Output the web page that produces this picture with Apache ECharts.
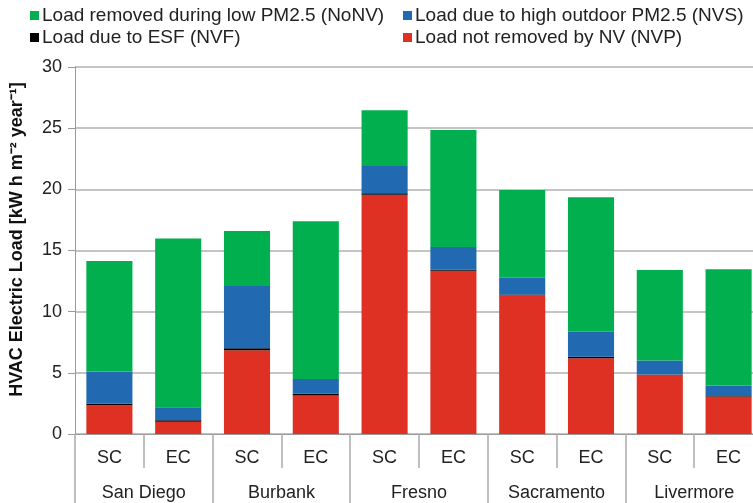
<!DOCTYPE html>
<html>
<head>
<meta charset="utf-8">
<script src="https://cdn.jsdelivr.net/npm/echarts@6/dist/echarts.min.js"></script>
<style>html,body{margin:0;padding:0;background:#fff;}#c{width:753px;height:503px;}</style>
</head>
<body>
<div id="c"></div>
<script>
const cases = ['SC','EC','SC','EC','SC','EC','SC','EC','SC','EC'];
const cities = ['San Diego','Burbank','Fresno','Sacramento','Livermore'];
const yTicks = [0,5,10,15,20,25,30];
const nameNoNV = 'Load removed during low PM2.5 (NoNV)';
const nameNVS = 'Load due to high outdoor PM2.5 (NVS)';
const nameNVF = 'Load due to ESF (NVF)';
const nameNVP = 'Load not removed by NV (NVP)';
const nvp  = [2.35, 1.0, 6.85, 3.15, 19.55, 13.35, 11.35, 6.2, 4.84, 3.07];
const nvf  = [0.12, 0.12, 0.15, 0.15, 0.12, 0.08, 0.05, 0.12, 0.03, 0.03];
const nvs  = [2.64, 1.06, 5.1, 1.2, 2.23, 1.86, 1.38, 2.03, 1.14, 0.87];
const nonv = [9.04, 13.8, 4.5, 12.9, 4.57, 9.55, 7.16, 11.0, 7.4, 9.5];

const FONT = "'Liberation Sans', Arial, sans-serif";
const chart = echarts.init(document.getElementById('c'), null, {renderer:'canvas'});
const legendCommon = {
  orient: 'vertical', top: 1, itemWidth: 9, itemHeight: 9, itemGap: 3, icon: 'rect',
  textStyle: {fontFamily: FONT, fontSize: 19, color: '#222', padding: [0,0,0,-2]},
  selectedMode: false
};
function mk(name, data, color) {
  return {name, type: 'bar', stack: 'total', data, barWidth: '67%',
    itemStyle: {color}, emphasis: {disabled: true}, animation: false};
}
chart.setOption({
  animation: false,
  textStyle: {fontFamily: FONT},
  legend: [
    Object.assign({left: 25, data: [nameNoNV, nameNVF]}, legendCommon),
    Object.assign({left: 398, data: [nameNVS, nameNVP]}, legendCommon)
  ],
  grid: {left: 75, top: 67, bottom: 69, width: 688, containLabel: false, outerBoundsMode: 'none'},
  xAxis: [
    {type: 'category', data: cases, position: 'bottom',
     axisLine: {show: true, lineStyle: {color: '#999', width: 1}},
     axisTick: {show: true, interval: 0, length: 34, lineStyle: {color: '#aaa', width: 1.5}},
     axisLabel: {interval: 0, margin: 15, fontSize: 18, color: '#222', fontFamily: FONT},
     splitLine: {show: false}},
    {type: 'category', data: cities, position: 'bottom',
     axisLine: {show: false},
     axisTick: {show: true, interval: 0, length: 72, lineStyle: {color: '#aaa', width: 1.5}},
     axisLabel: {interval: 0, margin: 50, fontSize: 18, color: '#222', fontFamily: FONT},
     splitLine: {show: false}}
  ],
  yAxis: {
    type: 'value', min: yTicks[0], max: yTicks[yTicks.length-1], interval: 5,
    name: 'HVAC Electric Load [kW h m\u207B\u00B2 year\u207B\u00B9]',
    nameLocation: 'middle', nameGap: 49, nameRotate: 90,
    nameTextStyle: {fontFamily: FONT, fontWeight: 'bold', fontSize: 18, color: '#111', padding: [0,0,0,22]},
    axisLine: {show: true, lineStyle: {color: '#999', width: 1}},
    axisTick: {show: true, length: 7, lineStyle: {color: '#999'}},
    axisLabel: {fontSize: 18, color: '#222', margin: 13, fontFamily: FONT},
    splitLine: {show: true, lineStyle: {color: '#b0b0b0', width: 1.5}}
  },
  series: [
    mk(nameNVP, nvp, '#DE3124'),
    mk(nameNVF, nvf, '#000000'),
    mk(nameNVS, nvs, '#2169B1'),
    mk(nameNoNV, nonv, '#02AF4F')
  ]
});
</script>
</body>
</html>
